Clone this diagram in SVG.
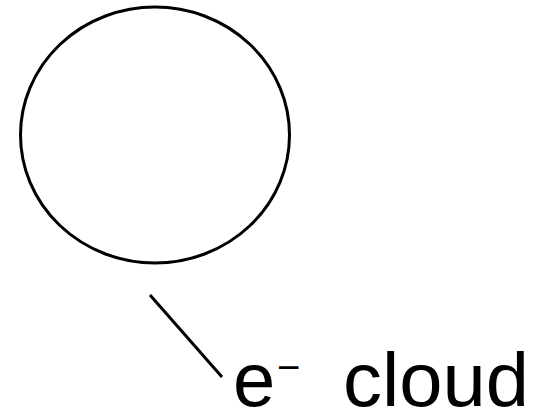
<svg xmlns="http://www.w3.org/2000/svg" width="548" height="413" viewBox="0 0 548 413">
<style>
.s{fill:none;stroke:#000;stroke-width:3}
.t{font-family:"Liberation Sans",Arial,sans-serif;fill:#000}
</style>
<rect width="548" height="413" fill="#fff"/>
<g id="cloud">
<ellipse class="s" cx="155" cy="135" rx="134.5" ry="128"/>
</g>
<g id="connectors">
<line class="s" x1="150" y1="295" x2="222" y2="377"/>
</g>
<g id="label">
<text class="t" x="233" y="406" font-size="76">e</text>
<text class="t" x="277" y="381" font-size="40">−</text>
<text class="t" x="343" y="406" font-size="76" textLength="186" lengthAdjust="spacingAndGlyphs">cloud</text>
</g>
</svg>
